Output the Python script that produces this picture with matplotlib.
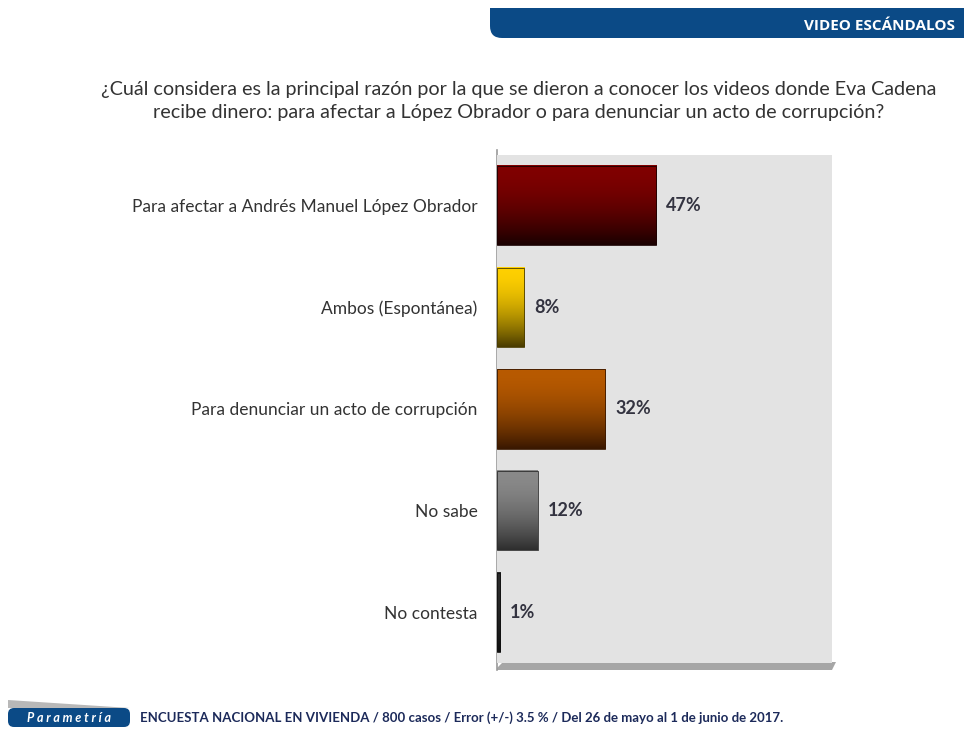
import numpy as np
import matplotlib.pyplot as plt
from matplotlib.colors import LinearSegmentedColormap
from matplotlib.patches import FancyBboxPatch, Rectangle, Polygon

# datos
categorias = ["Para afectar a Andrés Manuel López Obrador", "Ambos (Espontánea)",
              "Para denunciar un acto de corrupción", "No sabe", "No contesta"]
valores = [47, 8, 32, 12, 1]
colores_top = ["#800000", "#ffd000", "#b85a00", "#8a8a8a", "#2a2a2a"]
colores_bottom = ["#1a0000", "#4a3c00", "#3a1800", "#2e2e2e", "#101010"]

titulo = ("¿Cuál considera es la principal razón por la que se dieron a conocer los videos donde Eva Cadena\n"
          "recibe dinero: para afectar a López Obrador o para denunciar un acto de corrupción?")
encabezado = "VIDEO ESCÁNDALOS"
pie = "ENCUESTA NACIONAL EN VIVIENDA / 800 casos / Error (+/-) 3.5 % / Del 26 de mayo al 1 de junio de 2017."

plt.rcParams['font.family'] = ['Lato', 'DejaVu Sans']

W, H = 964, 729
fig = plt.figure(figsize=(W / 100, H / 100), dpi=100)
fig.patch.set_facecolor("white")

# encabezado azul
hdr = fig.add_axes([0, 0, 1, 1], zorder=0)
hdr.set_xlim(0, W)
hdr.set_ylim(H, 0)
hdr.axis("off")
hdr.add_patch(FancyBboxPatch((490, 8), 490, 30, boxstyle="round,pad=0,rounding_size=12",
                             fc="#0b4a86", ec="none"))
hdr.add_patch(Rectangle((490, 8), 490, 14, fc="#0b4a86", ec="none"))
hdr.text(955, 26, encabezado, color="white", fontsize=11, fontweight="bold",
         ha="right", va="center", family=["Open Sans", "DejaVu Sans"])

hdr.text(519, 101, titulo, ha="center", va="center", fontsize=14.2, color="#333333",
         linespacing=1.45)

# pie
hdr.add_patch(Polygon([[8, 700], [130, 708], [8, 708]], fc="#9a9a9a", ec="none", alpha=0.7))
hdr.add_patch(FancyBboxPatch((8, 708), 122, 19, boxstyle="round,pad=0,rounding_size=6",
                             fc="#0b4a86", ec="none"))
hdr.text(69, 718, "P a r a m e t r í a", color="white", fontsize=9, fontweight="bold",
         style="italic", ha="center", va="center")
hdr.text(140, 718, pie, color="#1c2a5a", fontsize=9.5, fontweight="bold", ha="left",
         va="center")

# piso 3D
hdr.add_patch(Polygon([[497, 668], [503, 662], [836, 662], [832, 670], [497, 670]],
                      fc="#a6a6a6", ec="none"))
hdr.plot([497, 497], [150, 670], color="#9a9a9a", lw=1.2)

ax = fig.add_axes([497 / W, 1 - 663 / H, (832 - 497) / W, (663 - 155) / H], zorder=1)
ax.set_facecolor("#e3e3e3")
n = len(categorias)

alto = 0.78
grad = (np.linspace(0, 1, 100) ** 1.8).reshape(-1, 1)
for i, (v, ct, cb) in enumerate(zip(valores, colores_top, colores_bottom)):
    cmap = LinearSegmentedColormap.from_list("g%d" % i, [ct, cb])
    ax.imshow(grad, cmap=cmap, aspect="auto", extent=[0, v, i + alto / 2, i - alto / 2],
              zorder=2, interpolation="bicubic")
    ax.add_patch(Rectangle((0, i - alto / 2), v, alto, fill=False, ec=cb, lw=0.6, zorder=3))
    ax.annotate(f"{v}%", (v, i), xytext=(7, 0), textcoords="offset points",
                ha="left", va="center", fontsize=13, fontweight="bold", color="#333340")

ax.set_xlim(0, 99)
ax.set_ylim(n - 0.5, -0.5)
ax.set_yticks(range(n))
ax.set_yticklabels(categorias, fontsize=12.5, color="#333333")
ax.tick_params(axis="y", length=0, pad=14)
ax.set_xticks([])
for s in ax.spines.values():
    s.set_visible(False)

fig.savefig("out.png", dpi=100, facecolor="white")
